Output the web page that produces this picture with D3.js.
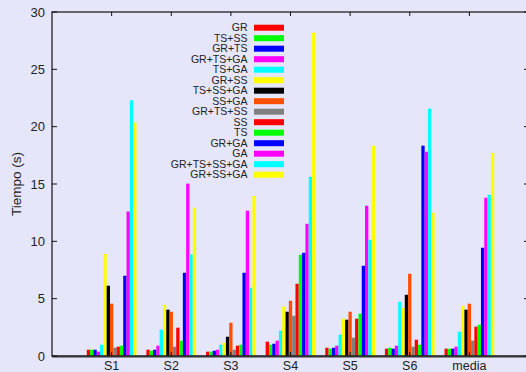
<!DOCTYPE html>
<html>
<head>
<meta charset="utf-8">
<script src="https://cdn.jsdelivr.net/npm/d3@7"></script>
<style>
  html, body { margin: 0; padding: 0; background: #e6e6fa; }
  svg { display: block; font-family: "Liberation Sans", Arial, sans-serif; }
</style>
</head>
<body>
<div id="chart"></div>
<script>
// categories on the x axis
const categories = ["S1", "S2", "S3", "S4", "S5", "S6", "media"];

// one series per legend entry
const seriesNames = ["GR", "TS+SS", "GR+TS", "GR+TS+GA", "TS+GA", "GR+SS", "TS+SS+GA", "SS+GA",
  "GR+TS+SS", "SS", "TS", "GR+GA", "GA", "GR+TS+SS+GA", "GR+SS+GA"];

// time (s) of every series, one array per category
const valuesS1 = [0.55, 0.55, 0.55, 0.38, 0.99, 8.9, 6.13, 4.56, 0.72, 0.81, 0.9, 7.0, 12.6, 22.3, 20.35];
const valuesS2 = [0.55, 0.46, 0.55, 0.9, 2.3, 4.47, 4.04, 3.86, 0.81, 2.47, 1.34, 7.26, 15.03, 8.85, 12.93];
const valuesS3 = [0.38, 0.38, 0.46, 0.55, 0.99, 1.16, 1.68, 2.9, 0.55, 0.9, 0.99, 7.26, 12.67, 5.95, 13.95];
const valuesS4 = [1.25, 0.99, 1.07, 1.34, 2.21, 4.3, 3.86, 4.82, 3.51, 6.3, 8.83, 9.0, 11.53, 15.63, 28.2];
const valuesS5 = [0.72, 0.64, 0.72, 0.9, 1.86, 3.25, 3.16, 3.86, 1.6, 3.25, 3.69, 7.87, 13.1, 10.14, 18.34];
const valuesS6 = [0.64, 0.72, 0.64, 0.9, 4.73, 4.21, 5.34, 7.17, 0.81, 1.42, 0.99, 18.34, 17.81, 21.57, 12.5];
const valuesMedia = [0.64, 0.64, 0.64, 0.81, 2.12, 4.38, 4.04, 4.56, 1.34, 2.56, 2.73, 9.44, 13.8, 14.06, 17.73];
const values = [valuesS1, valuesS2, valuesS3, valuesS4, valuesS5, valuesS6, valuesMedia];

const yTicks = [0, 5, 10, 15, 20, 25, 30];

const colors = ["#ff0000", "#00ff00", "#0000ff", "#ff00ff", "#00ffff", "#ffff00", "#000000", "#ff5000",
  "#808080", "#ff0000", "#00ff00", "#0000ff", "#ff00ff", "#00ffff", "#ffff00"];

const width = 526, height = 372;
const margin = { top: 12, right: -3, bottom: 16, left: 52 };

const svg = d3.select("#chart").append("svg")
  .attr("width", width)
  .attr("height", height);

svg.append("rect")
  .attr("width", width).attr("height", height)
  .attr("fill", "#e6e6fa");

// gnuplot style: categories at 0..6, x range [-1, 7]
const x = d3.scaleLinear()
  .domain([-1, categories.length])
  .range([margin.left, width - margin.right]);

const y = d3.scaleLinear()
  .domain([0, 30])
  .range([height - margin.bottom, margin.top]);

const unit = x(1) - x(0);
// clustered histogram, gap 3
const inner = d3.scaleBand()
  .domain(seriesNames)
  .range([-unit * 15 / 36, unit * 15 / 36])
  .padding(0);

const bars = [];
categories.forEach((c, i) => {
  values[i].forEach((v, j) => bars.push({ ci: i, s: seriesNames[j], v, color: colors[j] }));
});

svg.append("g").selectAll("rect")
  .data(bars)
  .join("rect")
  .attr("x", d => x(d.ci) + inner(d.s))
  .attr("y", d => y(d.v))
  .attr("width", inner.bandwidth())
  .attr("height", d => y(0) - y(d.v))
  .attr("fill", d => d.color);

// frame
const x0 = x(-1), x1 = x(categories.length), y0 = y(0), y1 = y(30);
svg.append("rect")
  .attr("x", x0).attr("y", y1)
  .attr("width", x1 - x0).attr("height", y0 - y1)
  .attr("fill", "none")
  .attr("stroke", "#111")
  .attr("stroke-width", 1.2);

svg.append("line")
  .attr("x1", x0).attr("x2", x1)
  .attr("y1", y0 + 0.5).attr("y2", y0 + 0.5)
  .attr("stroke", "#333")
  .attr("stroke-width", 2);

// y ticks (left and mirrored right)
const yAxis = svg.append("g");
yTicks.forEach(t => {
  yAxis.append("line")
    .attr("x1", x0).attr("x2", x0 + 5)
    .attr("y1", y(t)).attr("y2", y(t))
    .attr("stroke", "#111");
  yAxis.append("line")
    .attr("x1", x1 - 5).attr("x2", x1)
    .attr("y1", y(t)).attr("y2", y(t))
    .attr("stroke", "#111");
  yAxis.append("text")
    .attr("x", 45)
    .attr("y", y(t))
    .attr("dy", "0.36em")
    .attr("text-anchor", "end")
    .attr("font-size", 13)
    .attr("fill", "#222")
    .text(t);
});

// x ticks (bottom and mirrored top)
const xAxis = svg.append("g");
categories.forEach((c, i) => {
  xAxis.append("line")
    .attr("x1", x(i)).attr("x2", x(i))
    .attr("y1", y0).attr("y2", y0 - 4)
    .attr("stroke", "#111");
  xAxis.append("line")
    .attr("x1", x(i)).attr("x2", x(i))
    .attr("y1", y1).attr("y2", y1 + 4)
    .attr("stroke", "#111");
  xAxis.append("text")
    .attr("x", x(i))
    .attr("y", 370)
    .attr("text-anchor", "middle")
    .attr("font-size", 12.5)
    .attr("fill", "#222")
    .text(c);
});

svg.append("text")
  .attr("transform", `translate(21,${(y0 + y1) / 2}) rotate(-90)`)
  .attr("text-anchor", "middle")
  .attr("font-size", 13.5)
  .attr("fill", "#222")
  .text("Tiempo (s)");

// legend
const legend = svg.append("g");
seriesNames.forEach((s, j) => {
  const ly = 27.7 + j * 10.5;
  legend.append("text")
    .attr("x", 247.5)
    .attr("y", ly)
    .attr("dy", "0.36em")
    .attr("text-anchor", "end")
    .attr("font-size", 10.5)
    .attr("fill", "#222")
    .text(s);
  legend.append("rect")
    .attr("x", 254).attr("y", ly - 3)
    .attr("width", 30).attr("height", 6)
    .attr("fill", colors[j]);
});
</script>
</body>
</html>
